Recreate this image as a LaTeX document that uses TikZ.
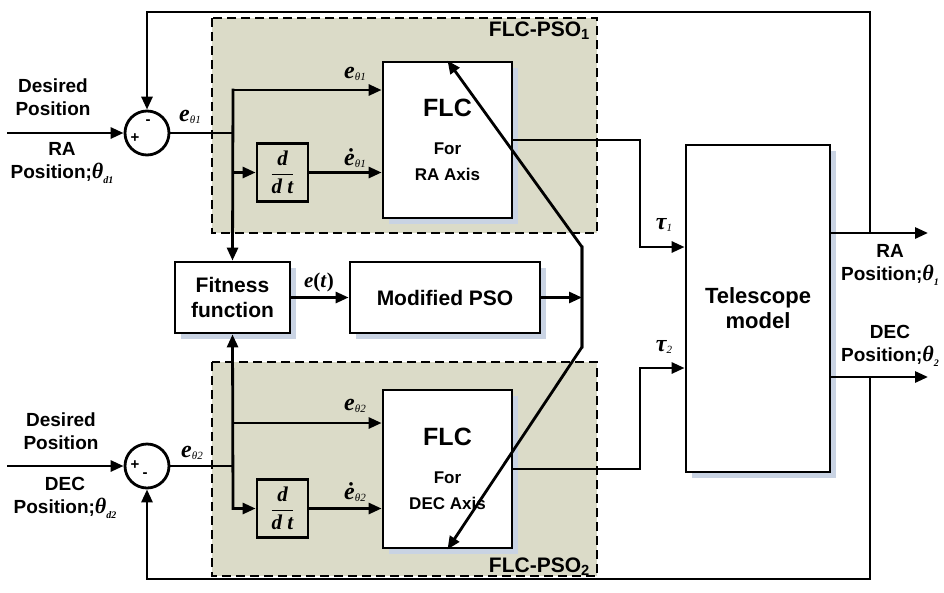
\documentclass[tikz,border=0pt]{standalone}
\usepackage{fontspec}
\setmainfont{Liberation Sans}
\newfontfamily\tms{Liberation Serif}
\usepackage{amsmath}
\usetikzlibrary{arrows.meta,shadows}
\definecolor{psofill}{HTML}{DBDBC8}
\definecolor{psoshadow}{HTML}{C9D3E3}
\newcommand{\errsym}[2]{{\tms\bfseries\itshape\fontsize{24}{24}\selectfont #1}\raisebox{-0.45ex}{\tms\itshape\fontsize{11}{11}\selectfont #2}}
\newcommand{\angsym}[1]{{\tms\itshape\fontsize{22}{22}\selectfont θ}\raisebox{-0.5ex}{\tms\itshape\fontsize{10}{10}\selectfont #1}}
\tikzset{
  blk/.style={draw, line width=2.8pt, fill=white, font=\bfseries, align=center,
              inner sep=0pt, drop shadow={shadow xshift=6pt, shadow yshift=-6pt,
              fill=psoshadow, opacity=1}},
  ddtbox/.style={draw, line width=2.8pt, fill=psofill, inner sep=0pt,
                 minimum width=51pt, minimum height=58pt},
  sumnode/.style={draw, circle, line width=2.8pt, minimum size=44pt,
                  inner sep=0pt, fill=white},
  sign/.style={font=\bfseries\fontsize{15}{15}\selectfont, inner sep=0pt},
  wire/.style={line width=2.8pt, line cap=rect},
  sig/.style={wire, -{Triangle[length=13pt,width=11pt]}},
  region/.style={draw, fill=psofill, line width=1.6pt, dash pattern=on 9pt off 5pt},
  regionlbl/.style={font=\bfseries\fontsize{21}{21}\selectfont, inner sep=1pt},
  lbl/.style={font=\bfseries\fontsize{19}{23}\selectfont, align=center},
  mlbl/.style={inner sep=0pt},
}
\begin{document}
\begin{tikzpicture}[x=1pt,y=-1pt]
    \useasboundingbox (0,0) rectangle (944,592);
    \draw[region] (212,18) rectangle (597,233);
    \draw[region] (212,362) rectangle (597,576);
    \node[regionlbl, anchor=north east] (psoA) at (591,21) {FLC-PSO\textsubscript{1}};
    \node[regionlbl, anchor=south east] (psoB) at (591,577) {FLC-PSO\textsubscript{2}};

    \node[sumnode] (sumA) at (147,133) {};
    \node[sumnode] (sumB) at (147,466) {};
    \node[sign] at ([xshift=-12pt,yshift=-5pt]sumA.center) {+};
    \node[sign] at ([xshift=1pt,yshift=11pt]sumA.center) {-};
    \node[sign] at ([xshift=-12pt,yshift=1pt]sumB.center) {+};
    \node[sign] at ([xshift=-2pt,yshift=-9pt]sumB.center) {-};

    \node[blk, minimum width=129pt, minimum height=156pt, font=\bfseries\fontsize{17}{26}\selectfont]
      (flcA) at (447.5,140) {{\fontsize{25}{25}\selectfont FLC}\\[12pt]For\\RA Axis};
    \node[blk, minimum width=129pt, minimum height=158pt, font=\bfseries\fontsize{17}{26}\selectfont]
      (flcB) at (447.5,469) {{\fontsize{25}{25}\selectfont FLC}\\[12pt]For\\DEC Axis};
    \node[ddtbox] (ddtA) at (282.5,172.5)
      {\tms\bfseries\itshape\fontsize{21}{21}\selectfont$\dfrac{\text{d}}{\text{d t}}$};
    \node[ddtbox] (ddtB) at (282.5,508.5)
      {\tms\bfseries\itshape\fontsize{21}{21}\selectfont$\dfrac{\text{d}}{\text{d t}}$};
    \node[blk, minimum width=115pt, minimum height=71pt, font=\bfseries\fontsize{21}{25}\selectfont]
      (fit) at (232.5,297.5) {Fitness\\function};
    \node[blk, minimum width=190pt, minimum height=71pt, font=\bfseries\fontsize{21}{25}\selectfont]
      (pso) at (445,297.5) {Modified PSO};
    \node[blk, minimum width=144pt, minimum height=327pt, font=\bfseries\fontsize{22}{25}\selectfont]
      (tel) at (758,308.5) {Telescope\\model};

    \coordinate (inA) at (8,133);
    \coordinate (inB) at (8,466);
    \coordinate (jA) at (233,133);
    \coordinate (jB) at (233,466);
    \coordinate (eA) at (233,90);
    \coordinate (eB) at (233,423);
    \coordinate (tA) at (640,247);
    \coordinate (tB) at (640,368);
    \coordinate (yA) at (870,233);
    \coordinate (yB) at (870,377);
    \coordinate (outA) at (928,233);
    \coordinate (outB) at (928,377);
    \coordinate (topA) at (147,12);
    \coordinate (botB) at (147,579);
    \coordinate (kA) at (582,247);
    \coordinate (kB) at (582,347);

    \draw[sig] (inA) -- (sumA.west);
    \draw[sig] (inB) -- (sumB.west);
    \draw[wire] (sumA.east) -- (jA);
    \draw[wire] (sumB.east) -- (jB);
    \draw[sig] (jA) -- (eA) -- (eA -| flcA.west);
    \draw[sig] (eA) -- (fit.north);
    \draw[sig] (jA |- ddtA) -- (ddtA.west);
    \draw[sig] (ddtA.east) -- (ddtA -| flcA.west);
    \draw[sig] (eB) -- (eB -| flcB.west);
    \draw[sig] (jB |- ddtB) -- (fit.south);
    \draw[sig] (jB |- ddtB) -- (ddtB.west);
    \draw[sig] (ddtB.east) -- (ddtB -| flcB.west);

    \draw[sig] (flcA.east) -| (tA) -- (tA -| tel.west);
    \draw[sig] (flcB.east) -| (tB) -- (tB -| tel.west);
    \draw[sig] (tel.east |- outA) -- (outA);
    \draw[sig] (tel.east |- outB) -- (outB);
    \draw[sig] (yA) |- (topA) -- (sumA.north);
    \draw[sig] (yB) |- (botB) -- (sumB.south);

    \draw[sig] (fit.east) -- (pso.west);
    \draw[sig] (pso.east) -- (pso.east -| kA);
    \draw[sig] (kB) -- (kA) -- (flcA.north);
    \draw[sig] (kA) -- (kB) -- (flcB.south);

    \node[lbl] (desA) at (53,97) {Desired\\Position};
    \node[lbl] (refA) at (62,163) {RA\\Position;\angsym{d1}};
    \node[lbl] (desB) at (61,431) {Desired\\Position};
    \node[lbl] (refB) at (65,498) {DEC\\Position;\angsym{d2}};
    \node[lbl] (posA) at (890,265) {RA\\Position;\angsym{1}};
    \node[lbl] (posB) at (890,346) {DEC\\Position;\angsym{2}};

    \node[mlbl] (errA) at (190,117) {\errsym{e}{θ1}};
    \node[mlbl] (errB) at (192,453) {\errsym{e}{θ2}};
    \node[mlbl] (eaA) at (355,74) {\errsym{e}{θ1}};
    \node[mlbl] (edA) at (355,158) {\errsym{ė}{θ1}};
    \node[mlbl] (eaB) at (355,406) {\errsym{e}{θ2}};
    \node[mlbl] (edB) at (355,492) {\errsym{ė}{θ2}};
    \node[mlbl] (tauA) at (664,225) {\errsym{τ}{1}};
    \node[mlbl] (tauB) at (664,347) {\errsym{τ}{2}};
    \node[mlbl, font=\tms\bfseries\fontsize{21}{21}\selectfont] (et) at (319,282) {\textit{e}(\textit{t})};
\end{tikzpicture}
\end{document}
